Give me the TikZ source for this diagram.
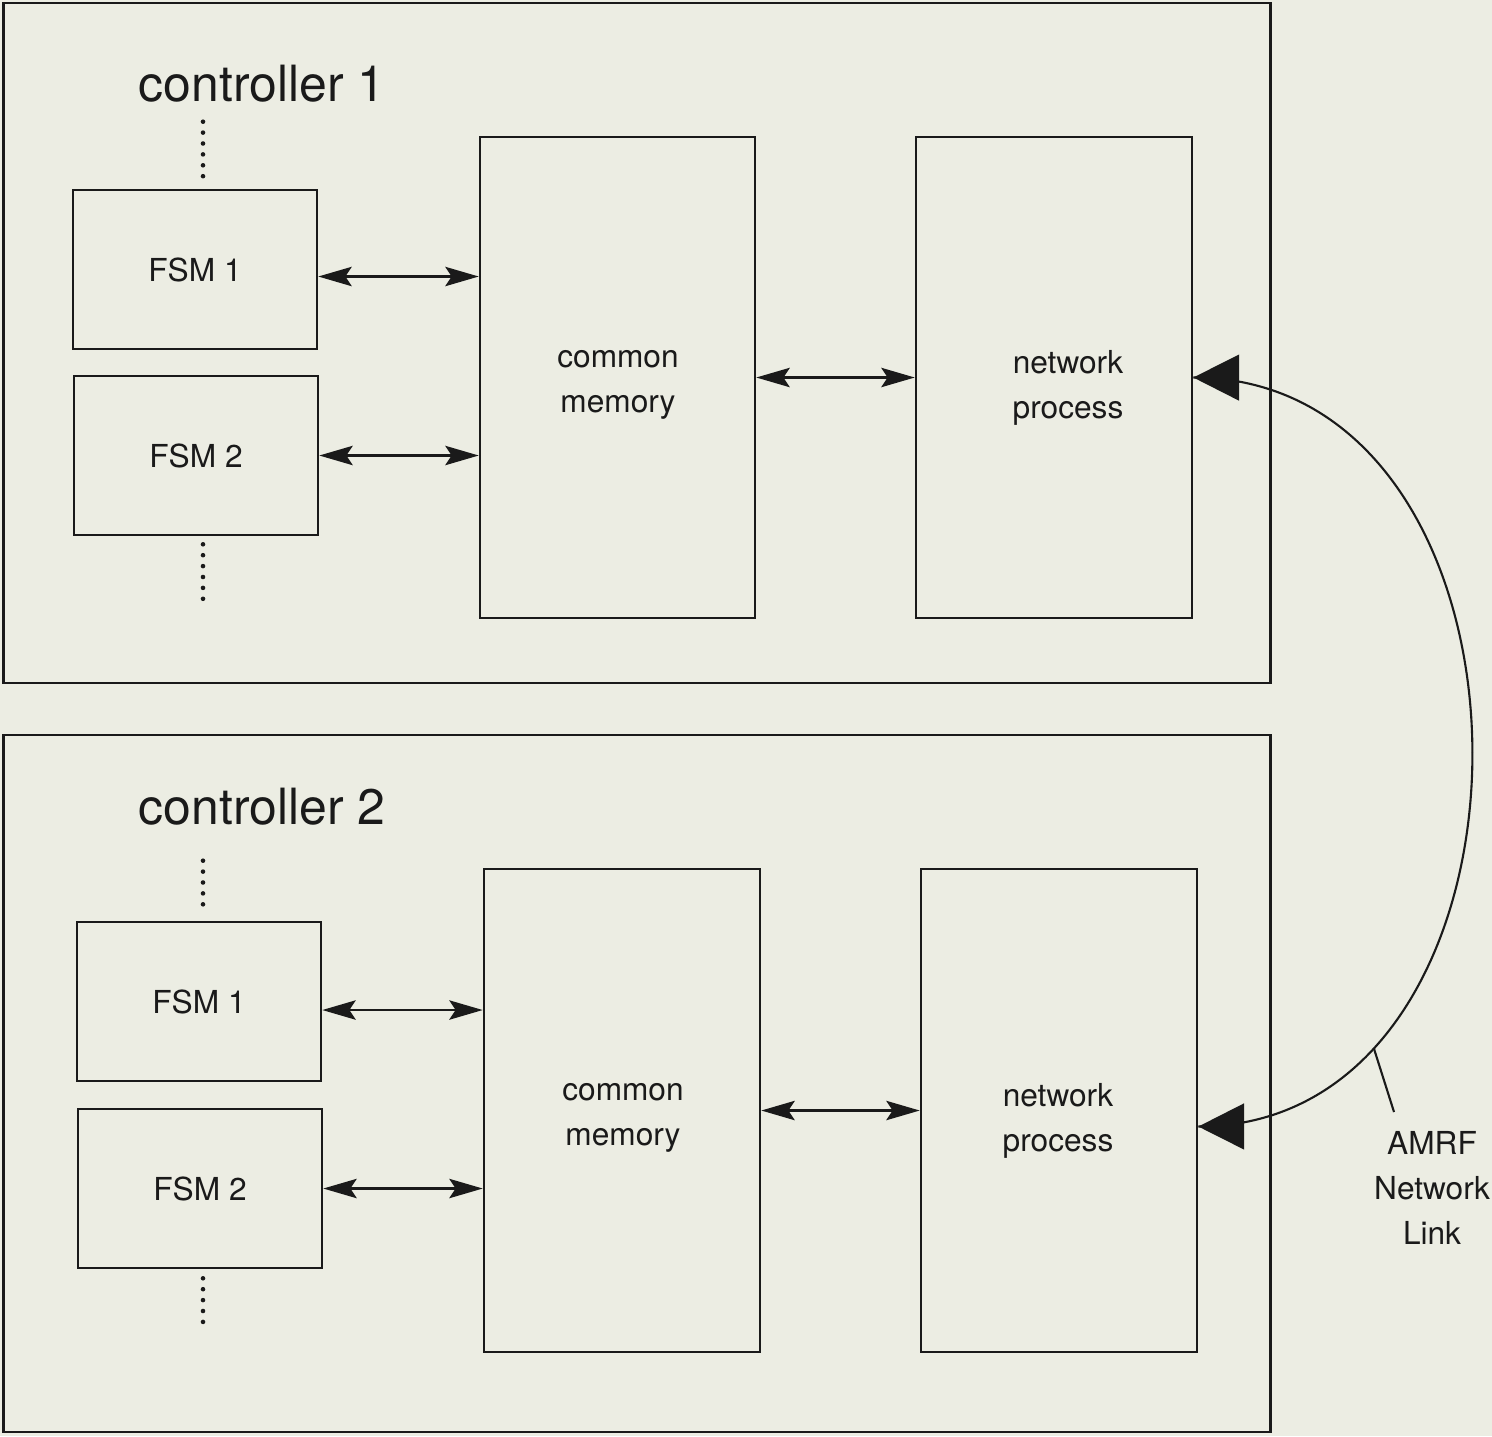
\documentclass[tikz,border=0pt]{standalone}
\usepackage{fontspec}
\setmainfont{TeX Gyre Heros}
\usetikzlibrary{arrows.meta,decorations.markings}
\definecolor{paper}{RGB}{236,237,227}
\definecolor{ink}{RGB}{26,26,26}
\tikzset{
  box/.style={draw=ink, line width=0.7pt, inner sep=0pt},
  frame/.style={draw=ink, line width=0.7pt},
  biarrow/.style={draw=ink, line width=0.7pt,
              {Stealth[length=9.5pt,width=5.5pt,inset=1.8pt]}-{Stealth[length=9.5pt,width=5.5pt,inset=1.8pt]}},
  bigtip/.tip={Triangle[length=13pt,width=13pt]},
  % half of the network link; its big arrow head sits at the start point
  netlink/.style={draw=ink, line width=0.6pt,
              postaction={decorate},
              decoration={markings,
                mark=at position 0 with {\arrowreversed[ink]{bigtip}}}},
  dotline/.style={draw=ink, line width=1.3pt, line cap=round,
              dash pattern=on 0pt off 3.1pt},
  title/.style={font=\fontsize{14.2}{16}\selectfont, text=ink, inner sep=0pt},
  lbl/.style={font=\fontsize{9}{12.8}\selectfont, text=ink, align=center, inner sep=0pt}
}
\begin{document}
\begin{tikzpicture}[x=0.01cm, y=-0.01cm]
  \fill[paper] (0,0) rectangle (1492,1436);
  \useasboundingbox (0,0) rectangle (1492,1436);

  % controller 1
  \node[frame, minimum width=12.66cm, minimum height=6.80cm] (ctrlA) at (637,343) {};
  \node[title, anchor=base west] (titleA) at (138,101) {controller 1};
  \node[box, lbl, minimum width=2.44cm, minimum height=1.59cm] (fsmA1) at (195,269.5) {FSM 1};
  \node[box, lbl, minimum width=2.44cm, minimum height=1.59cm] (fsmA2) at (196,455.5) {FSM 2};
  \node[box, minimum width=2.75cm, minimum height=4.81cm] (memA) at (617.5,377.5) {};
  \node[box, minimum width=2.76cm, minimum height=4.81cm] (netA) at (1054,377.5) {};
  \node[lbl] (memAtext) at (618,385) {common\\memory};
  \node[lbl] (netAtext) at (1068,388) {network\\process};

  \draw[dotline] ([xshift=0.08cm, yshift=0.67cm]fsmA1.north) -- ([xshift=0.08cm, yshift=0.1cm]fsmA1.north);
  \draw[dotline] ([xshift=0.07cm, yshift=-0.08cm]fsmA2.south) -- ([xshift=0.07cm, yshift=-0.7cm]fsmA2.south);

  \draw[biarrow] ([yshift=-0.07cm]fsmA1.east) -- ([yshift=-0.07cm]fsmA1.east -| memA.west);
  \draw[biarrow] (fsmA2.east) -- (fsmA2.east -| memA.west);
  \draw[biarrow] (memA.east) -- (netA.west);

  % controller 2
  \node[frame, minimum width=12.66cm, minimum height=6.97cm] (ctrlB) at (637,1083.5) {};
  \node[title, anchor=base west] (titleB) at (138,824) {controller 2};
  \node[box, lbl, minimum width=2.44cm, minimum height=1.59cm] (fsmB1) at (199,1001.5) {FSM 1};
  \node[box, lbl, minimum width=2.44cm, minimum height=1.59cm] (fsmB2) at (200,1188.5) {FSM 2};
  \node[box, minimum width=2.76cm, minimum height=4.83cm] (memB) at (622,1110.5) {};
  \node[box, minimum width=2.76cm, minimum height=4.83cm] (netB) at (1059,1110.5) {};
  \node[lbl] (memBtext) at (623,1118) {common\\memory};
  \node[lbl] (netBtext) at (1058,1121) {network\\process};

  \draw[dotline] ([xshift=0.04cm, yshift=0.6cm]fsmB1.north) -- ([xshift=0.04cm, yshift=0.1cm]fsmB1.north);
  \draw[dotline] ([xshift=0.03cm, yshift=-0.09cm]fsmB2.south) -- ([xshift=0.03cm, yshift=-0.62cm]fsmB2.south);

  \draw[biarrow] ([yshift=-0.085cm]fsmB1.east) -- ([yshift=-0.085cm]fsmB1.east -| memB.west);
  \draw[biarrow] (fsmB2.east) -- (fsmB2.east -| memB.west);
  \draw[biarrow] (memB.east) -- (netB.west);

  % network link between the two network processes, drawn as two halves
  \coordinate (linkmid) at (1472.4,752);
  \draw[netlink] (netA.east) .. controls (1378.5,377.75) and (1471.75,564.9) .. (linkmid);
  \draw[netlink] ([yshift=-0.16cm]netB.east) .. controls (1381,1126.25) and (1473,939.1) .. (linkmid)
    coordinate[pos=0.4] (linkpt);
  \node[lbl] (amrf) at (1432,1188) {AMRF\\Network\\Link};
  \coordinate (lblend) at (1394,1112);
  \draw[draw=ink, line width=0.6pt] (lblend) -- (linkpt);
\end{tikzpicture}
\end{document}
